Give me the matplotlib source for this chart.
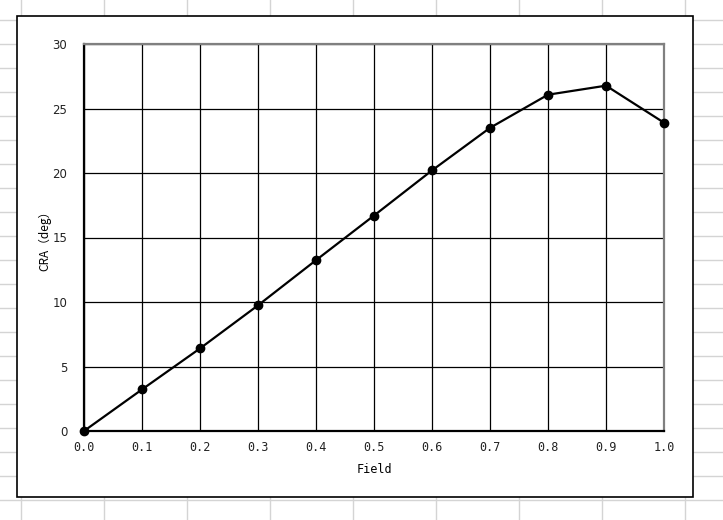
import matplotlib
matplotlib.use("Agg")
import matplotlib.pyplot as plt
from matplotlib.patches import Rectangle
import numpy as np

field = [0.0, 0.1, 0.2, 0.3, 0.4, 0.5, 0.6, 0.7, 0.8, 0.9, 1.0]
cra = [0.0, 3.22, 6.4, 9.74, 13.24, 16.7, 20.2, 23.5, 26.07, 26.77, 23.9]
x_ticks = [0.0, 0.1, 0.2, 0.3, 0.4, 0.5, 0.6, 0.7, 0.8, 0.9, 1.0]
y_ticks = [0, 5, 10, 15, 20, 25, 30]

W, H = 723, 520
fig = plt.figure(figsize=(W / 100, H / 100), dpi=100)
fig.patch.set_facecolor("white")

# spreadsheet cell grid behind the chart
bg = fig.add_axes([0, 0, 1, 1], zorder=0)
bg.set_xlim(0, W)
bg.set_ylim(H, 0)
bg.set_axis_off()
for gx in range(21, W, 83):
    bg.axvline(gx, color="#d4d4d4", lw=1.0)
for gy in range(20, H, 24):
    bg.axhline(gy, color="#d4d4d4", lw=1.0)
bg.add_patch(Rectangle((17, 16), 676, 481, facecolor="white",
                       edgecolor="black", lw=1.2, zorder=3))

ax = fig.add_axes([84 / W, 1 - 431 / H, 580 / W, 387 / H], zorder=1)
ax.set_facecolor("white")
ax.plot(field, cra, color="black", lw=1.6, marker="o", ms=6, zorder=3,
        clip_on=False)
ax.set_xlim(0, 1)
ax.set_ylim(0, 30)
ax.set_xticks(x_ticks)
ax.set_xticklabels([f"{v:.1f}" for v in x_ticks], family="DejaVu Sans Mono",
                   fontsize=8.5, color="#222222")
ax.set_yticks(y_ticks)
ax.set_yticklabels([str(v) for v in y_ticks], family="DejaVu Sans",
                   fontsize=8.5, color="#222222")
ax.grid(True, color="black", lw=0.9)
ax.set_axisbelow(True)
ax.tick_params(axis="x", length=0, pad=7)
ax.tick_params(axis="y", length=0, pad=12)
for s in ["top", "right"]:
    ax.spines[s].set_color("#808080")
    ax.spines[s].set_linewidth(1.6)
for s in ["bottom", "left"]:
    ax.spines[s].set_color("black")
    ax.spines[s].set_linewidth(1.6)

ax.set_xlabel("Field", family="DejaVu Sans Mono", fontsize=8.5, labelpad=7)
ax.set_ylabel("CRA（deg）", family=["Noto Sans CJK SC", "DejaVu Sans"],
              fontsize=8.5, labelpad=1)

fig.savefig("out.png", dpi=100)
